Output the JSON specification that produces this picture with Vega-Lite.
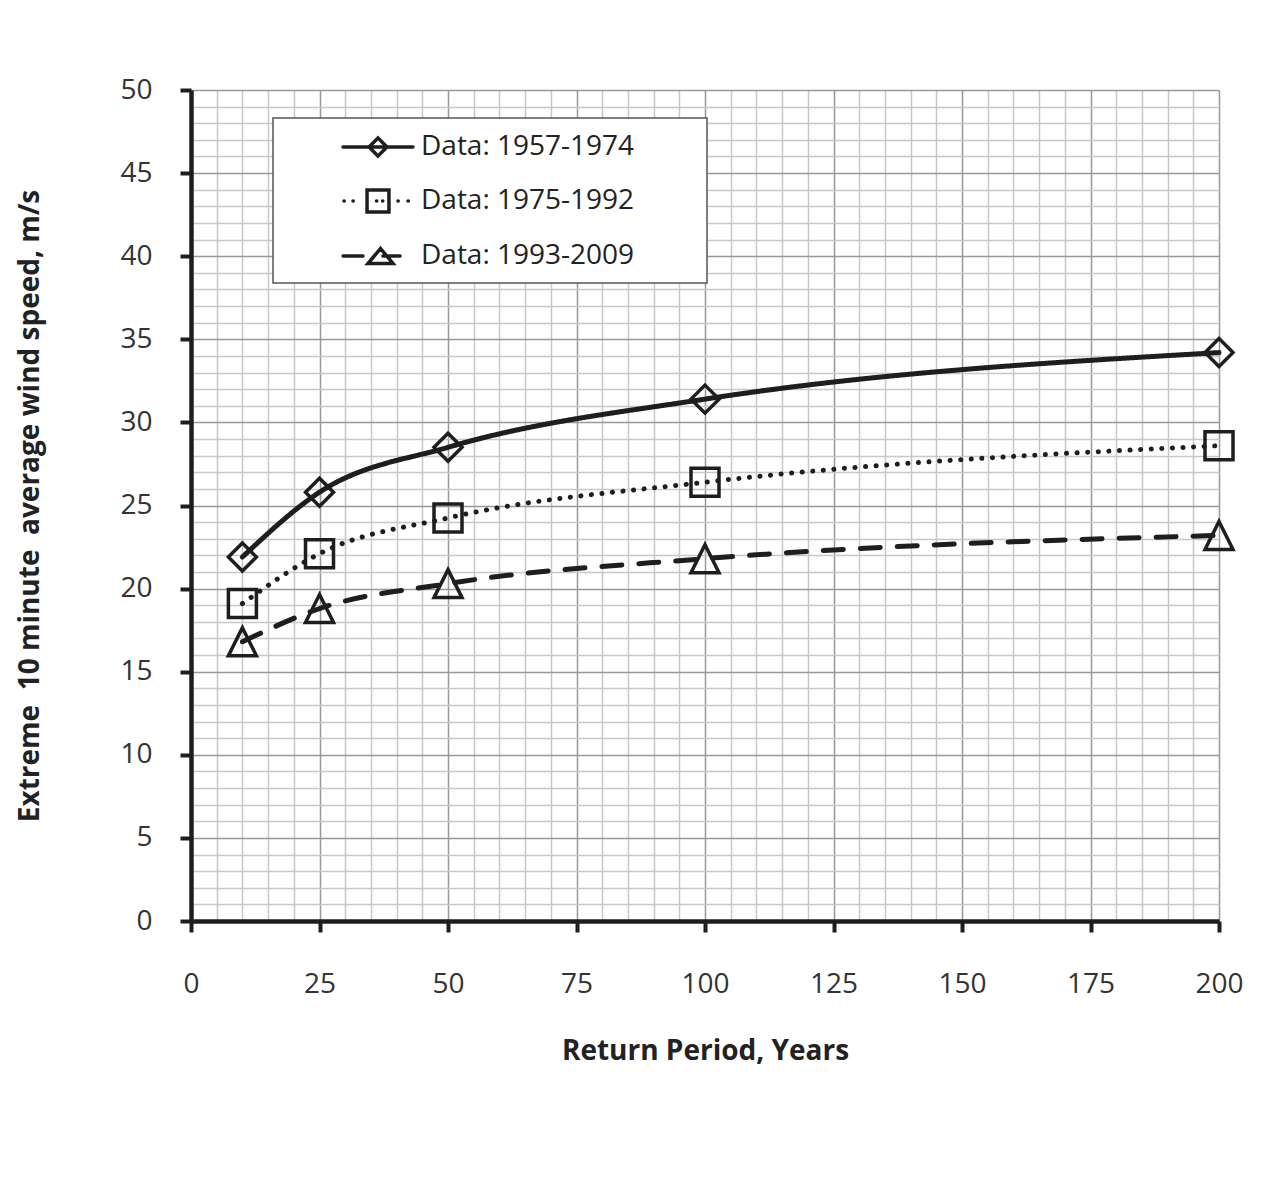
{
  "$schema": "https://vega.github.io/schema/vega-lite/v6.json",
  "width": 1028,
  "height": 831,
  "autosize": {"type": "none"},
  "padding": {"left": 191, "top": 90, "right": 42, "bottom": 264},
  "background": "white",
  "config": {
    "view": {"stroke": null},
    "font": "Open Sans"
  },
  "data": {
    "values": [
      {"series": "Data: 1957-1974", "period": 10, "speed": 21.9},
      {"series": "Data: 1957-1974", "period": 25, "speed": 25.8},
      {"series": "Data: 1957-1974", "period": 50, "speed": 28.5},
      {"series": "Data: 1957-1974", "period": 100, "speed": 31.4},
      {"series": "Data: 1957-1974", "period": 200, "speed": 34.2},
      {"series": "Data: 1975-1992", "period": 10, "speed": 19.1},
      {"series": "Data: 1975-1992", "period": 25, "speed": 22.1},
      {"series": "Data: 1975-1992", "period": 50, "speed": 24.25},
      {"series": "Data: 1975-1992", "period": 100, "speed": 26.4},
      {"series": "Data: 1975-1992", "period": 200, "speed": 28.6},
      {"series": "Data: 1993-2009", "period": 10, "speed": 16.8},
      {"series": "Data: 1993-2009", "period": 25, "speed": 18.8},
      {"series": "Data: 1993-2009", "period": 50, "speed": 20.3},
      {"series": "Data: 1993-2009", "period": 100, "speed": 21.8},
      {"series": "Data: 1993-2009", "period": 200, "speed": 23.2}
    ]
  },
  "resolve": {"axis": {"x": "independent", "y": "independent"}},
  "layer": [
    {
      "mark": {"type": "line", "interpolate": "monotone", "strokeWidth": 5, "strokeCap": "round"},
      "encoding": {
        "x": {
          "field": "period", "type": "quantitative",
          "scale": {"domain": [0, 200], "nice": false, "zero": false},
          "axis": {
            "orient": "top", "grid": true, "gridColor": "#c8c8c8", "gridWidth": 1.5,
            "values": [5,10,15,20,30,35,40,45,55,60,65,70,80,85,90,95,105,110,115,120,130,135,140,145,155,160,165,170,180,185,190,195],
            "domain": false, "ticks": false, "labels": false, "title": null
          }
        },
        "y": {
          "field": "speed", "type": "quantitative",
          "scale": {"domain": [0, 50], "nice": false},
          "axis": {
            "orient": "right", "grid": true, "gridColor": "#c8c8c8", "gridWidth": 1.5,
            "values": [1,2,3,4,6,7,8,9,11,12,13,14,16,17,18,19,21,22,23,24,26,27,28,29,31,32,33,34,36,37,38,39,41,42,43,44,46,47,48,49],
            "domain": false, "ticks": false, "labels": false, "title": null
          }
        },
        "strokeDash": {
          "field": "series", "type": "nominal",
          "scale": {"range": [[1, 0], [0.1, 10.5], [20, 17]]},
          "legend": null
        },
        "stroke": {
          "field": "series", "type": "nominal",
          "scale": {
            "domain": ["Data: 1957-1974", "Data: 1975-1992", "Data: 1993-2009"],
            "range": ["#1e1e1e", "#1e1e1e", "#1e1e1e"]
          },
          "legend": {
            "orient": "none", "legendX": 82, "legendY": 28,
            "title": null,
            "padding": 12, "rowPadding": 20,
            "symbolSize": 900, "symbolOffset": 76, "labelOffset": 26,
            "fillColor": "white", "strokeColor": "#555",
            "labelFont": "Open Sans", "labelFontSize": 28, "labelColor": "#222",
            "symbolStrokeWidth": 3.5,
            "labelExpr": "datum.label + '\u2003\u2003\u2009\u200b'",
            "labelLimit": 400,
            "encoding": {
              "legend": {"strokeWidth": {"value": 1.5}},
              "symbols": {
                "shape": {"value": {"expr": "datum.value === 'Data: 1957-1974' ? 'M-2.33,0H2.33M-0.6,0L0,-0.6L0.6,0L0,0.6Z' : datum.value === 'Data: 1975-1992' ? 'M-2.27,0h0.02M-1.67,0h0.02M-0.1,0h0.02M0.3,0h0.02M1.33,0h0.02M2.0,0h0.02M-0.73,-0.73H0.73V0.73H-0.73Z' : 'M-2.33,0H-1M0.33,0H1.47M0.17,-0.5L1,0.5L-0.67,0.5Z'"}},
                "strokeDash": {"value": []},
                "strokeCap": {"value": "round"},
                "fill": {"value": "transparent"}
              }
            }
          }
        }
      }
    },
    {
      "mark": {"type": "point", "filled": false, "color": "#1e1e1e", "strokeWidth": 3.5, "size": 784, "opacity": 1},
      "encoding": {
        "x": {
          "field": "period", "type": "quantitative",
          "scale": {"domain": [0, 200], "nice": false, "zero": false},
          "axis": {
            "orient": "bottom", "values": [0,25,50,75,100,125,150,175,200],
            "grid": true, "gridColor": "#999", "gridWidth": 1.5,
            "domainColor": "#1e1e1e", "domainWidth": 4.5,
            "tickColor": "#1e1e1e", "tickWidth": 4, "tickSize": 11,
            "labelFont": "Open Sans", "labelFontSize": 28, "labelColor": "#333",
            "labelPadding": 38, "labelFlush": false,
            "title": "Return Period, Years", "titleFont": "Open Sans", "titleFontSize": 28,
            "titleFontWeight": "bold", "titleColor": "#222", "titlePadding": 39
          }
        },
        "y": {
          "field": "speed", "type": "quantitative",
          "scale": {"domain": [0, 50], "nice": false},
          "axis": {
            "orient": "left", "values": [0,5,10,15,20,25,30,35,40,45,50],
            "grid": true, "gridColor": "#999", "gridWidth": 1.5,
            "domainColor": "#1e1e1e", "domainWidth": 4.5,
            "tickColor": "#1e1e1e", "tickWidth": 4, "tickSize": 11,
            "labelFont": "Open Sans", "labelFontSize": 28, "labelColor": "#333",
            "labelPadding": 28, "labelFlush": false,
            "title": "Extreme\u00a0 10 minute\u00a0 average wind speed, m/s",
            "titleFont": "Open Sans", "titleFontSize": 28,
            "titleFontWeight": "bold", "titleColor": "#222", "titlePadding": 75
          }
        },
        "shape": {
          "field": "series", "type": "nominal",
          "scale": {"range": ["diamond", "square", "M0,-1L1,1L-1,1Z"]},
          "legend": null
        }
      }
    }
  ]
}
